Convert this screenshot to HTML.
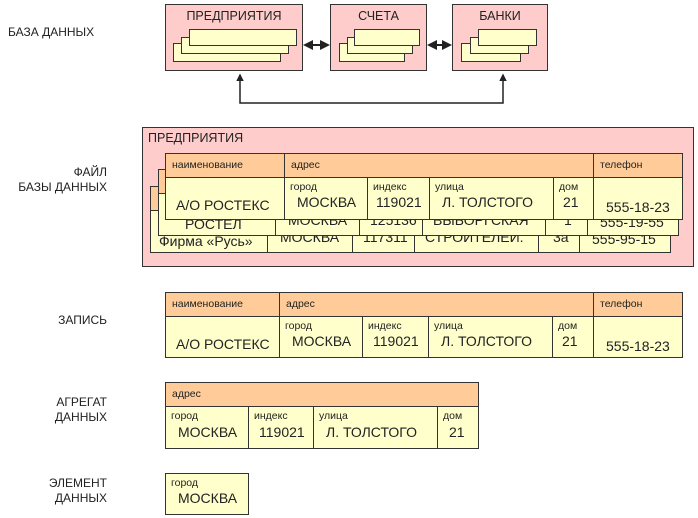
<!DOCTYPE html>
<html><head><meta charset="utf-8"><style>
body{margin:0;width:698px;height:518px;background:#fff;position:relative;overflow:hidden;font-family:"Liberation Sans",sans-serif;color:#222}
div{box-sizing:border-box}
.a{position:absolute}
.lbl{position:absolute;font-size:12px;text-align:right;width:100px;line-height:15px}
.pk{position:absolute;background:#ffcccc;border:1px solid #333}
.yl{position:absolute;background:#ffffcc;border:1px solid #333}
.t{position:absolute;width:518px;height:67px}
.h{position:absolute;top:0;height:25px;background:#ffcc99;border:1px solid #333;font-size:10.5px;padding:5px 0 0 6px}
.c{position:absolute;top:24px;height:43px;background:#ffffcc;border:1px solid #333}
.s{position:absolute;left:5px;top:3px;font-size:10.5px}
.v{position:absolute;font-size:14px;white-space:nowrap}
</style></head><body>

<div class="lbl" style="left:8px;top:25px;text-align:left;width:120px">БАЗА ДАННЫХ</div>
<div class="lbl" style="left:7px;top:165px">ФАЙЛ<br>БАЗЫ ДАННЫХ</div>
<div class="lbl" style="left:7px;top:313px">ЗАПИСЬ</div>
<div class="lbl" style="left:7px;top:395px">АГРЕГАТ<br>ДАННЫХ</div>
<div class="lbl" style="left:7px;top:476px">ЭЛЕМЕНТ<br>ДАННЫХ</div>

<div class="pk" style="left:165px;top:4px;width:138px;height:67px"></div>
<div class="a" style="left:165px;top:9px;width:138px;text-align:center;font-size:12.5px">ПРЕДПРИЯТИЯ</div>
<div class="yl" style="left:173px;top:43px;width:108px;height:19px"></div>
<div class="yl" style="left:181px;top:37px;width:108px;height:17px"></div>
<div class="yl" style="left:189px;top:29px;width:108px;height:17px"></div>

<div class="pk" style="left:330px;top:4px;width:97px;height:67px"></div>
<div class="a" style="left:330px;top:9px;width:97px;text-align:center;font-size:12.5px">СЧЕТА</div>
<div class="yl" style="left:339px;top:43px;width:66px;height:19px"></div>
<div class="yl" style="left:347px;top:37px;width:66px;height:17px"></div>
<div class="yl" style="left:354px;top:29px;width:66px;height:17px"></div>

<div class="pk" style="left:452px;top:4px;width:96px;height:67px"></div>
<div class="a" style="left:452px;top:9px;width:96px;text-align:center;font-size:12.5px">БАНКИ</div>
<div class="yl" style="left:461px;top:43px;width:60px;height:19px"></div>
<div class="yl" style="left:470px;top:37px;width:59px;height:17px"></div>
<div class="yl" style="left:478px;top:29px;width:59px;height:17px"></div>

<svg class="a" style="left:0;top:0" width="698" height="110">
<defs><marker id="m" markerWidth="5" markerHeight="5" refX="4" refY="2.5" orient="auto-start-reverse"><path d="M0,0L5,2.5L0,5z" fill="#222"/></marker></defs>
<line x1="305" y1="45" x2="328" y2="45" stroke="#222" stroke-width="2" marker-start="url(#m)" marker-end="url(#m)"/>
<line x1="429" y1="45" x2="450" y2="45" stroke="#222" stroke-width="2" marker-start="url(#m)" marker-end="url(#m)"/>
<polyline points="240,75 240,103 503,103 503,75" fill="none" stroke="#222" stroke-width="1.5" marker-start="url(#m)" marker-end="url(#m)"/>
</svg>

<div class="pk" style="left:142px;top:127px;width:552px;height:140px"></div>
<div class="a" style="left:148px;top:131px;font-size:12.5px">ПРЕДПРИЯТИЯ</div>

<div class="t" style="left:150px;top:186px">
<div class="h" style="left:0;width:115px"></div><div class="h" style="left:114px;width:315px"></div><div class="h" style="left:428px;width:90px"></div>
<div class="c" style="left:0;width:118px"><div class="v" style="left:8px;top:22px">Фирма «Русь»</div></div>
<div class="c" style="left:117px;width:86px"><div class="v" style="left:12px;top:18px">МОСКВА</div></div>
<div class="c" style="left:202px;width:63px"><div class="v" style="left:10px;top:18px">117311</div></div>
<div class="c" style="left:264px;width:125px"><div class="v" style="left:10px;top:18px">СТРОИТЕЛЕЙ.</div></div>
<div class="c" style="left:388px;width:42px"><div class="v" style="left:14px;top:18px">3а</div></div>
<div class="c" style="left:429px;width:92px"><div class="v" style="left:12px;top:20px">555-95-15</div></div>
</div>

<div class="t" style="left:158px;top:169px">
<div class="h" style="left:0;width:115px"></div><div class="h" style="left:114px;width:315px"></div><div class="h" style="left:428px;width:90px"></div>
<div class="c" style="left:0;width:118px"><div class="v" style="left:26px;top:22px">РОСТЕЛ</div></div>
<div class="c" style="left:117px;width:85px"><div class="v" style="left:12px;top:18px">МОСКВА</div></div>
<div class="c" style="left:201px;width:64px"><div class="v" style="left:10px;top:18px">125136</div></div>
<div class="c" style="left:264px;width:124px"><div class="v" style="left:10px;top:18px">ВЫБОРГСКАЯ</div></div>
<div class="c" style="left:387px;width:43px"><div class="v" style="left:18px;top:18px">1</div></div>
<div class="c" style="left:429px;width:92px"><div class="v" style="left:12px;top:20px">555-19-55</div></div>
</div>

<div class="t" style="left:165px;top:153px">
<div class="h" style="left:0;width:120px">наименование</div><div class="h" style="left:119px;width:310px">адрес</div><div class="h" style="left:428px;width:90px">телефон</div>
<div class="c" style="left:0;width:120px"><div class="v" style="left:10px;top:19px">А/О РОСТЕКС</div></div>
<div class="c" style="left:119px;width:84px"><div class="s">город</div><div class="v" style="left:12px;top:16px">МОСКВА</div></div>
<div class="c" style="left:202px;width:63px"><div class="s">индекс</div><div class="v" style="left:8px;top:16px">119021</div></div>
<div class="c" style="left:264px;width:125px"><div class="s">улица</div><div class="v" style="left:12px;top:16px">Л. ТОЛСТОГО</div></div>
<div class="c" style="left:388px;width:41px"><div class="s">дом</div><div class="v" style="left:9px;top:16px">21</div></div>
<div class="c" style="left:428px;width:90px"><div class="v" style="left:12px;top:21px">555-18-23</div></div>
</div>

<div class="t" style="left:165px;top:292px">
<div class="h" style="left:0;width:115px">наименование</div><div class="h" style="left:114px;width:315px">адрес</div><div class="h" style="left:428px;width:90px">телефон</div>
<div class="c" style="left:0;width:115px;height:42px"><div class="v" style="left:10px;top:19px">А/О РОСТЕКС</div></div>
<div class="c" style="left:114px;width:84px;height:42px"><div class="s">город</div><div class="v" style="left:12px;top:16px">МОСКВА</div></div>
<div class="c" style="left:197px;width:67px;height:42px"><div class="s">индекс</div><div class="v" style="left:10px;top:16px">119021</div></div>
<div class="c" style="left:263px;width:125px;height:42px"><div class="s">улица</div><div class="v" style="left:12px;top:16px">Л. ТОЛСТОГО</div></div>
<div class="c" style="left:387px;width:42px;height:42px"><div class="s">дом</div><div class="v" style="left:9px;top:16px">21</div></div>
<div class="c" style="left:428px;width:90px;height:42px"><div class="v" style="left:12px;top:21px">555-18-23</div></div>
</div>

<div class="t" style="left:165px;top:382px;width:314px">
<div class="h" style="left:0;width:314px">адрес</div>
<div class="c" style="left:0;width:84px;height:43px"><div class="s">город</div><div class="v" style="left:12px;top:17px">МОСКВА</div></div>
<div class="c" style="left:83px;width:66px;height:43px"><div class="s">индекс</div><div class="v" style="left:10px;top:17px">119021</div></div>
<div class="c" style="left:148px;width:125px;height:43px"><div class="s">улица</div><div class="v" style="left:12px;top:17px">Л. ТОЛСТОГО</div></div>
<div class="c" style="left:272px;width:42px;height:43px"><div class="s">дом</div><div class="v" style="left:11px;top:17px">21</div></div>
</div>

<div class="yl" style="left:165px;top:473px;width:84px;height:42px"><div class="s">город</div><div class="v" style="left:12px;top:16px">МОСКВА</div></div>

</body></html>
